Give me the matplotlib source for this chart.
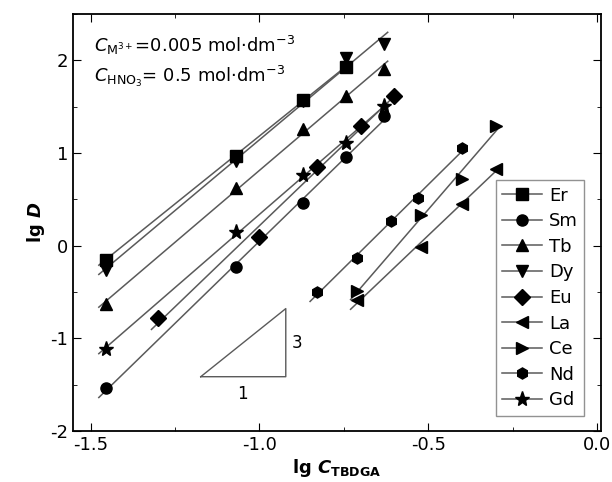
import numpy as np
import matplotlib
matplotlib.use("Agg")
import matplotlib.pyplot as plt

# lg C(TBDGA) vs lg D for each metal
names = ["Er", "Sm", "Tb", "Dy", "Eu", "La", "Ce", "Nd", "Gd"]
markers = ["s", "o", "^", "v", "D", "<", ">", "h", "*"]

x_er = [-1.456, -1.07, -0.87, -0.745]
y_er = [-0.15, 0.97, 1.57, 1.93]
x_sm = [-1.456, -1.07, -0.87, -0.745, -0.63]
y_sm = [-1.54, -0.23, 0.46, 0.96, 1.40]
x_tb = [-1.456, -1.07, -0.87, -0.745, -0.63]
y_tb = [-0.63, 0.62, 1.26, 1.61, 1.91]
x_dy = [-1.456, -1.07, -0.87, -0.745, -0.63]
y_dy = [-0.26, 0.91, 1.56, 2.02, 2.18]
x_eu = [-1.30, -1.0, -0.83, -0.70, -0.60]
y_eu = [-0.78, 0.09, 0.85, 1.29, 1.62]
x_la = [-0.71, -0.52, -0.40, -0.30]
y_la = [-0.59, -0.01, 0.45, 0.83]
x_ce = [-0.71, -0.52, -0.40, -0.30]
y_ce = [-0.49, 0.33, 0.72, 1.29]
x_nd = [-0.83, -0.71, -0.61, -0.53, -0.40]
y_nd = [-0.50, -0.13, 0.27, 0.51, 1.05]
x_gd = [-1.456, -1.07, -0.87, -0.745, -0.63]
y_gd = [-1.12, 0.15, 0.76, 1.11, 1.51]

xs = [x_er, x_sm, x_tb, x_dy, x_eu, x_la, x_ce, x_nd, x_gd]
ys = [y_er, y_sm, y_tb, y_dy, y_eu, y_la, y_ce, y_nd, y_gd]

fig = plt.figure(figsize=(6.12, 4.82), dpi=100)
ax = fig.add_axes([0.119, 0.106, 0.863, 0.865])

for name, m, x, y in zip(names, markers, xs, ys):
    x = np.array(x)
    y = np.array(y)
    k, b = np.polyfit(x, y, 1)
    xx = np.array([x.min() - 0.02, x.max() + 0.01])
    ax.plot(xx, k * xx + b, color="#5a5a5a", lw=1.1, zorder=1)
    ms = 11 if m == "*" else 8
    ax.plot(x, y, ls="none", marker=m, color="black", ms=ms, zorder=2)
    # legend proxy
    ax.plot([], [], color="#5a5a5a", lw=1.1, marker=m, mfc="black", mec="black",
            ms=ms, label=name)

# slope triangle 3:1
tri_x = [-1.174, -0.922, -0.922, -1.174]
tri_y = [-1.415, -1.415, -0.68, -1.415]
ax.plot(tri_x, tri_y, color="#5a5a5a", lw=1.0)
ax.text(-1.05, -1.5, "1", fontsize=12, ha="center", va="top")
ax.text(-0.905, -1.05, "3", fontsize=12, ha="left", va="center")

ax.text(-1.49, 2.16, r"$C_{\mathrm{M^{3+}}}$=0.005 mol·dm$^{-3}$", fontsize=13, va="center")
ax.text(-1.49, 1.83, r"$C_{\mathrm{HNO_3}}$= 0.5 mol·dm$^{-3}$", fontsize=13, va="center")

ax.set_xlim(-1.553, 0.012)
ax.set_ylim(-2.0, 2.5)
ax.set_xticks([-1.5, -1.0, -0.5, 0.0])
ax.set_xticklabels(["-1.5", "-1.0", "-0.5", "0.0"])
ax.set_yticks([-2, -1, 0, 1, 2])
ax.set_yticklabels(["-2", "-1", "0", "1", "2"])
ax.set_xticks(np.arange(-1.5, 0.01, 0.25), minor=True)
ax.set_yticks(np.arange(-2, 2.51, 0.5), minor=True)
ax.tick_params(which="both", direction="in", top=True, right=True, labelsize=13)
ax.tick_params(which="major", length=6)
ax.tick_params(which="minor", length=3)
for s in ax.spines.values():
    s.set_linewidth(1.3)

ax.set_xlabel(r"lg $\boldsymbol{C}_{\mathbf{TBDGA}}$", fontsize=13, fontweight="bold", labelpad=2)
ax.set_ylabel(r"lg $\boldsymbol{D}$", fontsize=13, fontweight="bold", labelpad=2)

leg = ax.legend(loc="lower right", fontsize=13, frameon=True, fancybox=False,
                edgecolor="#777777", handlelength=2.2, handletextpad=0.4,
                labelspacing=0.42, borderpad=0.35, bbox_to_anchor=(0.985, 0.015))
leg.get_frame().set_linewidth(1.0)

fig.savefig("out.png", dpi=100)
